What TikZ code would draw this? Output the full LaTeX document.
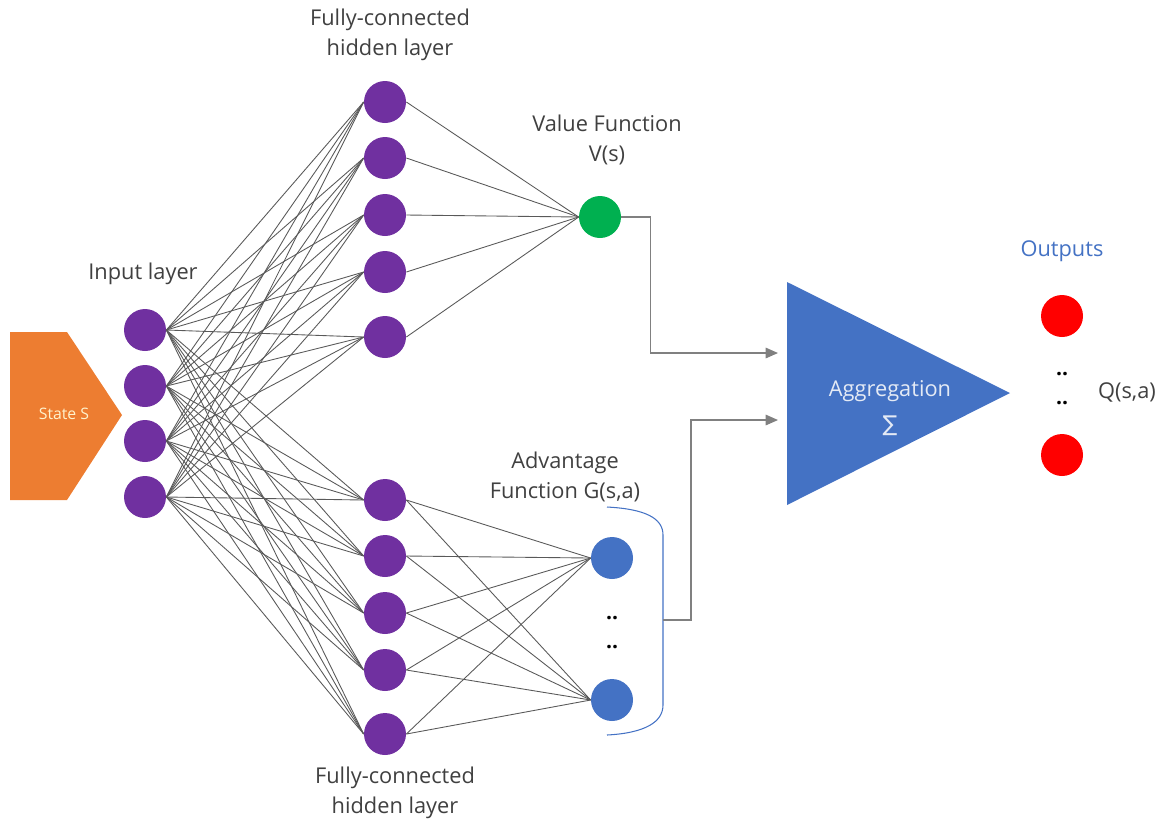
\documentclass[tikz,border=0pt]{standalone}
\usepackage{fontspec}
\setmainfont{Open Sans}
\newfontfamily\symfont{DejaVu Sans}
\usetikzlibrary{arrows.meta}

\definecolor{nnpurple}{HTML}{7030A0}
\definecolor{nngreen}{HTML}{00B050}
\definecolor{nnblue}{HTML}{4472C4}
\definecolor{nnred}{HTML}{FF0000}
\definecolor{nnorange}{HTML}{ED7D31}
\definecolor{txtgray}{HTML}{404040}
\definecolor{wiregray}{HTML}{595959}
\definecolor{statetxt}{HTML}{FFF2CC}
\definecolor{aggtxt}{HTML}{E4EAF5}

\tikzset{
  neuron/.style={circle, minimum size=0.84cm, inner sep=0pt},
  lbl/.style={text=txtgray, align=center, font=\fontsize{12.4}{17}\selectfont},
  wire/.style={draw=wiregray, line width=0.5pt},
  feed/.style={draw=gray, line width=0.7pt, -{Triangle[length=7pt,width=6pt]}},
  dots/.style={font=\bfseries\fontsize{12}{12}\selectfont, inner sep=0pt}
}

\begin{document}
\begin{tikzpicture}[x=0.02cm, y=-0.02cm]
  \useasboundingbox (0,0) rectangle (1168,823);

  % state input
  \fill[nnorange] (10,332) -- (67,332) -- (122,415) -- (67,500) -- (10,500) -- cycle;
  \node[text=statetxt, font=\fontsize{9}{9}\selectfont] (state) at (64,414) {State S};

  % aggregation block
  \fill[nnblue] (787,282) -- (1010,393) -- (787,505) -- cycle;
  \node[text=aggtxt, align=center, font=\fontsize{12.4}{20}\selectfont] (agg) at (890,408)
    {Aggregation\\{\symfont ∑}};
  \coordinate (aggin1) at (778,353);
  \coordinate (aggin2) at (778,420);

  \draw
    (145,330) node[neuron, fill=nnpurple] (i1){}
    (145,386) node[neuron, fill=nnpurple] (i2){}
    (145,441) node[neuron, fill=nnpurple] (i3){}
    (145,497) node[neuron, fill=nnpurple] (i4){}
    (385,102) node[neuron, fill=nnpurple] (t1){}
    (385,158) node[neuron, fill=nnpurple] (t2){}
    (385,215) node[neuron, fill=nnpurple] (t3){}
    (385,272) node[neuron, fill=nnpurple] (t4){}
    (385,337) node[neuron, fill=nnpurple] (t5){}
    (385,500) node[neuron, fill=nnpurple] (b1){}
    (385,556) node[neuron, fill=nnpurple] (b2){}
    (385,613) node[neuron, fill=nnpurple] (b3){}
    (385,670) node[neuron, fill=nnpurple] (b4){}
    (385,734) node[neuron, fill=nnpurple] (b5){}
    (600,217) node[neuron, fill=nngreen] (v){}
    (612,558) node[neuron, fill=nnblue] (a1){}
    (612,700) node[neuron, fill=nnblue] (a2){}
    (1062,316) node[neuron, fill=nnred] (q1){}
    (1062,455) node[neuron, fill=nnred] (q2){};

  % labels
  \node[lbl] (inlbl) at (143,274) {Input layer};
  \node[lbl] (toplbl) at (390,35) {Fully-connected\\hidden layer};
  \node[lbl] (botlbl) at (395,793) {Fully-connected\\hidden layer};
  \node[lbl] (vlbl) at (607,140) {Value Function\\V(s)};
  \node[lbl] (albl) at (565,477) {Advantage\\Function G(s,a)};
  \node[lbl, text=nnblue] (outlbl) at (1062,251) {Outputs};
  \node[lbl] (qlbl) at (1127,392) {Q(s,a)};
  \node[dots] (ad1) at (612,618) {..};
  \node[dots] (ad2) at (612,647) {..};
  \node[dots] (qd1) at (1062,374) {..};
  \node[dots] (qd2) at (1062,403) {..};

  \begin{scope}[wire]
    \foreach \i in {1,...,4}
      \foreach \h in {t1,t2,t3,t4,t5,b1,b2,b3,b4,b5}
        \draw (i\i.east) -- (\h.west);
    \foreach \h in {1,...,5}
      \draw (t\h.east) -- (v.west);
    \foreach \h in {1,...,5}
      \foreach \a in {1,2}
        \draw (b\h.east) -- (a\a.west);
  \end{scope}

  % bracket round the advantage outputs
  \draw[nnblue, line width=0.6pt]
    (607,507) .. controls (645,509) and (663,518) .. (663,535)
    -- (663,705) .. controls (663,722) and (645,733) .. (607,735);
  \coordinate (brk) at (663,620);

  \draw[feed] (v.east) -- ++(29,0) |- (aggin1);
  \draw[feed] (brk) -- ++(28,0) |- (aggin2);
\end{tikzpicture}
\end{document}
